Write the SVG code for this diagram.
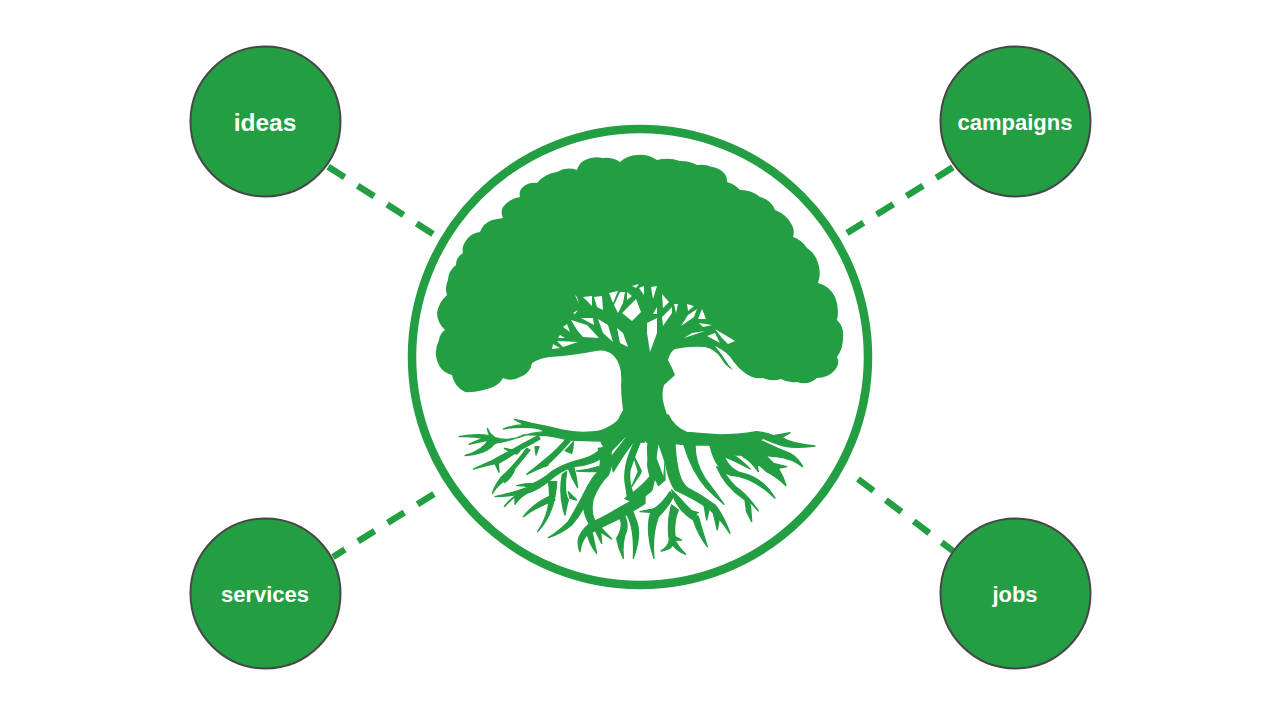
<svg xmlns="http://www.w3.org/2000/svg" width="1280" height="720" viewBox="0 0 1280 720">
<style>
.n{fill:#239e43;stroke:#474747;stroke-width:2}
.t{fill:#fff;font-family:"Liberation Sans",Arial,sans-serif;font-weight:700;text-anchor:middle}
.d{fill:none;stroke:#239e43;stroke-width:6.5;stroke-dasharray:19.5 15.5}
.g{fill:#239e43}
.r{fill:#239e43;stroke:#239e43;stroke-width:4;stroke-linejoin:round}
.h{fill:#fff}
</style>
<rect width="1280" height="720" fill="#fff"/>
<g id="connectors">
<path class="d" d="M433 234L327 166"/>
<path class="d" d="M847 233L955 166"/>
<path class="d" d="M434 494L333 557"/>
<path class="d" d="M858 479L953 551"/>
</g>
<g id="node-tree">
<circle cx="640" cy="357" r="228" fill="#fff" stroke="#239e43" stroke-width="8.5"/>
<path class="g" d="M465 392A24 24 0 0 1 452 375A20 20 0 0 1 440 367A28 28 0 0 1 439 340A14 14 0 0 1 445 330A24 24 0 0 1 437 313A30 30 0 0 1 447 295A20 20 0 0 1 448 280A20 20 0 0 1 456 265A14 14 0 0 1 463 253A14 14 0 0 1 465 242A20 20 0 0 1 480 232A20 20 0 0 1 492 220L503 218A12 12 0 0 1 503 207A26 26 0 0 1 520 197A10 10 0 0 1 523 187A18 18 0 0 1 537 183A30 30 0 0 1 557 172A24 24 0 0 1 577 170A16 16 0 0 1 585 160A26 26 0 0 1 603 158A26 26 0 0 1 620 162A26 26 0 0 1 637 155A30 30 0 0 1 657 160A40 40 0 0 1 680 161A34 34 0 0 1 697 165A26 26 0 0 1 712 167A20 20 0 0 1 723 172A12 12 0 0 1 727 182A26 26 0 0 1 740 190A30 30 0 0 1 760 197A22 22 0 0 1 775 210A32 32 0 0 1 792 225A16 16 0 0 1 793 237A26 26 0 0 1 807 248A26 26 0 0 1 818 263A30 30 0 0 1 818 283A26 26 0 0 1 835 297A38 38 0 0 1 837 320A20 20 0 0 1 843 337A32 32 0 0 1 837 357A12 12 0 0 1 835 370A24 24 0 0 1 817 378A20 20 0 0 1 797 382A24 24 0 0 1 781 379A24 24 0 0 1 763 378A24 24 0 0 1 745 373Q738 368 733 361Q728 352 715 346Q720 352 724 358Q728 365 733 370Q725 366 721 358Q716 350 705 347Q690 346 675 349Q670 352 668 360L672 368L675 375L664 385Q661 395 664 405L670 425H615L623 410Q621 395 621 385Q623 365 613 355Q606 349 596 351Q570 356 550 357Q540 358 532 363A18 18 0 0 1 520 377A18 18 0 0 1 503 378A20 20 0 0 1 493 387Q478 393 465 392Z"/>
<path class="h" d="M575 295L579 304L577 297ZM583 297L592 296L592 306ZM594 297L602 296L603 310L597 307ZM609 293L618 291L613 303ZM620 292L625 292L623 303L618 313L614 305ZM627 292L632 296L627 300ZM636 299L641 312L632 321L622 313ZM632 286L639 284L636 288ZM639 288L644 286L644 295ZM651 287L657 286L653 299ZM662 294L669 302L663 308ZM674 304L678 304L676 313ZM672 307L672 313L663 326L662 317ZM657 307L653 314L657 314ZM657 318L657 333L650 352L647 333L647 323ZM687 304L694 306L688 311ZM697 309L694 317L681 326L688 315ZM702 309L706 319L698 319ZM699 323L712 325L703 327ZM705 331L684 338L692 333ZM707 336L715 333L720 343ZM715 329L735 341L728 344L722 338ZM571 320L587 325L599 338L583 337L577 330ZM581 318L593 318L594 325ZM598 319L608 325L613 342L603 333ZM617 328L623 333L628 347L620 343ZM567 324L570 332L563 327ZM560 335L565 338L558 338ZM557 341L578 342L563 347ZM553 344L560 348L552 349ZM573 313L578 310L575 314Z"/>
<g transform="translate(455 415) scale(.33333)">
<path class="r" d="M505 0Q480 35 430 50L440 85L462 115L510 65H570V0Z"/>
<path class="r" d="M440 48Q375 58 320 45Q275 33 230 25Q205 18 178 13Q195 22 208 29Q175 30 145 42Q185 34 230 38Q255 40 270 50Q230 52 190 68Q150 78 120 68L105 55L97 40Q100 55 105 62Q60 55 12 65Q55 63 85 70Q70 75 42 88Q75 80 100 75Q85 105 30 122Q85 118 110 95Q120 82 135 82Q175 75 205 60Q225 58 275 62Q300 65 320 70L340 75L440 78Z"/>
<path class="r" d="M520 60Q490 100 465 130L475 170Q510 110 545 70Z"/>
<path class="r" d="M250 62Q205 85 165 108Q130 125 115 135Q85 148 55 162Q95 152 120 146L132 172L130 145Q165 125 195 105Q225 90 255 72Z"/>
<path class="r" d="M195 108Q170 105 148 100Q165 110 185 117Z"/>
<path class="r" d="M215 100Q175 155 140 185Q120 210 112 235Q130 205 160 190L148 203Q170 190 180 160Q205 130 225 105Z"/>
<path class="r" d="M335 70Q305 105 280 125Q250 150 215 178Q255 160 280 150L270 155Q300 130 345 80Z"/>
<path class="r" d="M240 95L243 120L252 95Z"/>
<path class="r" d="M455 85Q425 120 385 132Q330 145 290 170Q260 195 235 205Q210 205 185 212Q210 212 220 216Q170 235 120 245Q165 243 190 238Q165 250 148 275Q170 252 180 245L180 268Q190 250 215 235Q250 225 285 195Q320 165 355 155Q420 150 470 110Z"/>
<path class="r" d="M330 107Q345 95 355 80Q355 100 350 115Z"/>
<path class="r" d="M340 160Q350 190 368 218Q365 185 355 150Z"/>
<path class="r" d="M280 200Q295 280 248 350Q300 295 305 200Z"/>
<path class="r" d="M292 240Q240 260 205 305Q245 275 300 255Z"/>
<path class="r" d="M400 210Q370 270 340 320Q310 350 280 368Q320 355 350 330Q385 290 410 230Z"/>
<path class="r" d="M322 178Q310 240 330 300Q335 270 340 255Q325 230 335 170Z"/>
<path class="r" d="M340 230L365 255L345 250Z"/>
<path class="r" d="M430 100Q445 150 425 175Q395 205 385 260Q385 300 405 330Q435 350 470 372Q440 340 420 320Q405 290 415 250Q430 210 460 180Q475 150 465 95Z"/>
<path class="r" d="M365 168Q400 165 430 155L430 170Q395 170 365 168Z"/>
<path class="r" d="M570 230Q530 260 490 280Q440 310 405 325Q375 350 370 375Q368 395 375 410Q378 380 395 360Q440 335 495 310Q540 285 570 265Z"/>
<path class="r" d="M395 345Q400 385 425 415Q418 385 410 345Z"/>
<path class="r" d="M420 345L440 385L437 350Z"/>
<path class="r" d="M490 300Q510 330 485 370Q490 400 505 430Q500 380 515 345Q520 320 505 295Z"/>
<path class="r" d="M510 290Q540 330 535 430Q560 360 545 320Q535 295 530 280Z"/>
<path class="r" d="M545 70Q505 140 510 200Q515 230 518 250L535 240Q520 200 525 165Q540 120 558 75Z"/>
</g>
<g transform="translate(630 415) scale(.33333)">
<path class="r" d="M-10 0H115Q130 35 170 52Q215 55 270 60Q320 60 380 50Q405 52 430 62L480 53L455 68Q490 88 555 93Q500 100 470 95Q440 88 400 70L390 75Q440 100 480 115Q505 130 518 155Q485 130 440 125Q430 125 405 120L430 145L470 155L445 160Q460 185 468 212Q440 185 410 170Q395 155 380 145L385 170Q365 140 340 125Q330 115 300 110L235 90L175 90L130 85L-10 80Z"/>
<path class="r" d="M265 120H340L300 112L240 85Z"/>
<path class="r" d="M270 120Q310 135 360 162Q330 130 300 115Z"/>
<path class="r" d="M240 90Q255 160 300 180Q370 185 435 250Q400 190 340 175Q290 165 275 100Z"/>
<path class="r" d="M260 155Q285 215 345 255L350 290L365 320L362 280L358 260Q370 270 385 288Q360 250 330 225Q300 205 280 165Z"/>
<path class="r" d="M160 85Q185 170 230 220Q255 245 282 268Q255 230 225 190Q195 145 195 90Z"/>
<path class="r" d="M100 80Q105 180 135 225Q190 250 235 280Q270 310 300 355Q280 300 255 270Q215 240 175 220Q140 200 135 85Z"/>
<path class="r" d="M250 295L262 345L268 310Z"/>
<path class="r" d="M222 270L230 315L238 280Z"/>
<path class="r" d="M125 225Q135 280 190 315Q205 360 232 395Q215 340 205 305Q180 285 145 245Z"/>
<path class="r" d="M175 285L205 293L185 300Z"/>
<path class="r" d="M125 270Q110 320 118 375Q115 395 93 408Q120 405 128 390Q145 410 167 418Q140 390 135 375L155 375L135 365Q130 320 145 285Z"/>
<path class="r" d="M55 80Q45 130 60 185Q25 225 -15 250L15 265Q70 225 105 195Q102 140 105 85Z"/>
<path class="r" d="M120 230Q95 270 70 282L30 290L62 292Q45 350 72 430Q65 360 85 305Q115 275 130 245Z"/>
<path class="r" d="M10 120L35 170L5 215L25 170Z"/>
<path class="h" d="M85 88L103 140L100 183L80 130ZM30 100L48 78L52 130L50 175L30 205L38 150ZM75 195L85 215L55 275L50 250L68 225Z"/>
</g>
</g>
<g id="node-ideas"><circle class="n" cx="265.5" cy="121.5" r="75"/><text class="t" x="265" y="131" font-size="24.5">ideas</text></g>
<g id="node-campaigns"><circle class="n" cx="1015.5" cy="121.5" r="75"/><text class="t" x="1015" y="130" font-size="22">campaigns</text></g>
<g id="node-services"><circle class="n" cx="265.5" cy="593.5" r="75"/><text class="t" x="265" y="602" font-size="22">services</text></g>
<g id="node-jobs"><circle class="n" cx="1015.5" cy="593.5" r="75"/><text class="t" x="1015" y="602" font-size="22">jobs</text></g>
</svg>
